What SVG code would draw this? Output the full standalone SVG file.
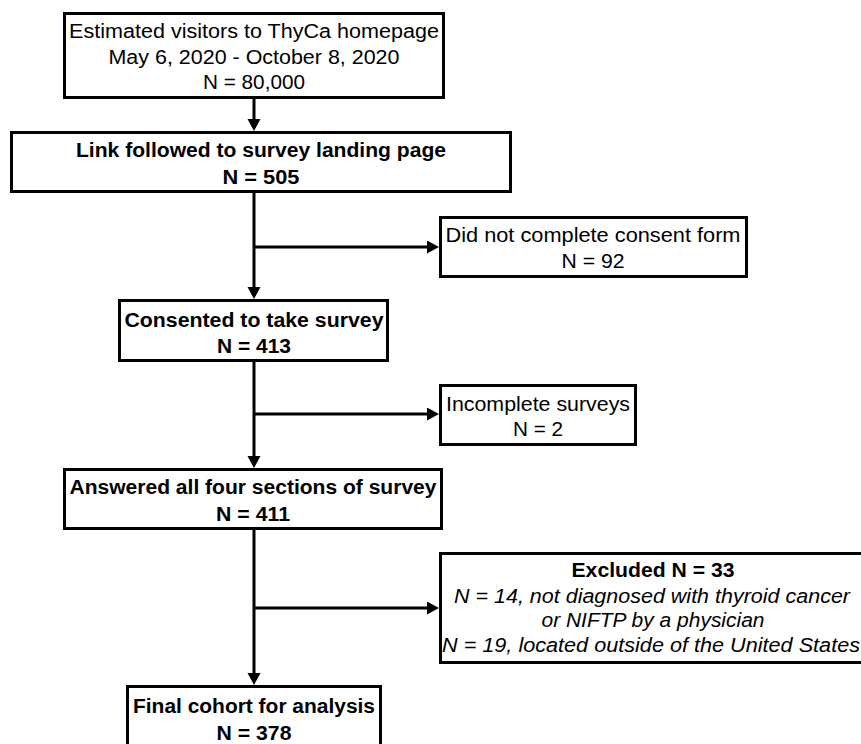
<svg xmlns="http://www.w3.org/2000/svg" width="861" height="744" viewBox="0 0 861 744">
<defs>
<style>
.box{fill:#fff;stroke:#000;stroke-width:3}
.t{font-family:"Liberation Sans",Arial,sans-serif;font-size:20px;fill:#000;text-anchor:middle}
.b{font-weight:bold}
.i{font-style:italic}
.c{fill:none;stroke:#000;stroke-width:3}
</style>
<marker id="ah" markerUnits="userSpaceOnUse" markerWidth="14" markerHeight="14" refX="2" refY="6.5" orient="auto">
<path d="M0,0 L12,6.5 L0,13 z" fill="#000"/>
</marker>
</defs>
<rect width="861" height="744" fill="#fff"/>
<g id="connectors">
<line class="c" x1="254" y1="99" x2="254" y2="121" marker-end="url(#ah)"/>
<line class="c" x1="254" y1="193" x2="254" y2="289" marker-end="url(#ah)"/>
<line class="c" x1="254" y1="247" x2="429" y2="247" marker-end="url(#ah)"/>
<line class="c" x1="254" y1="362" x2="254" y2="458" marker-end="url(#ah)"/>
<line class="c" x1="254" y1="414" x2="429" y2="414" marker-end="url(#ah)"/>
<line class="c" x1="254" y1="530" x2="254" y2="675" marker-end="url(#ah)"/>
<line class="c" x1="254" y1="608" x2="429" y2="608" marker-end="url(#ah)"/>
</g>
<g id="visitors">
<rect class="box" x="64.5" y="13.5" width="379" height="84"/>
<text class="t" x="254" y="38" textLength="370" lengthAdjust="spacingAndGlyphs">Estimated visitors to ThyCa homepage</text>
<text class="t" x="254" y="64" textLength="291" lengthAdjust="spacingAndGlyphs">May 6, 2020 - October 8, 2020</text>
<text class="t" x="254" y="89" textLength="102" lengthAdjust="spacingAndGlyphs">N = 80,000</text>
</g>
<g id="landing">
<rect class="box" x="11.5" y="132.5" width="499" height="59"/>
<text class="t b" x="261" y="157" textLength="370" lengthAdjust="spacingAndGlyphs">Link followed to survey landing page</text>
<text class="t b" x="261" y="184" textLength="77" lengthAdjust="spacingAndGlyphs">N = 505</text>
</g>
<g id="noconsent">
<rect class="box" x="440.5" y="217.5" width="306" height="59"/>
<text class="t" x="593" y="242" textLength="295" lengthAdjust="spacingAndGlyphs">Did not complete consent form</text>
<text class="t" x="593" y="268" textLength="63" lengthAdjust="spacingAndGlyphs">N = 92</text>
</g>
<g id="consented">
<rect class="box" x="119.5" y="300.5" width="268" height="60"/>
<text class="t b" x="254" y="327" textLength="259" lengthAdjust="spacingAndGlyphs">Consented to take survey</text>
<text class="t b" x="254" y="353" textLength="74" lengthAdjust="spacingAndGlyphs">N = 413</text>
</g>
<g id="incomplete">
<rect class="box" x="440.5" y="385.5" width="195" height="59"/>
<text class="t" x="538" y="411" textLength="184" lengthAdjust="spacingAndGlyphs">Incomplete surveys</text>
<text class="t" x="538" y="436" textLength="50" lengthAdjust="spacingAndGlyphs">N = 2</text>
</g>
<g id="answered">
<rect class="box" x="64.5" y="469.5" width="377" height="59"/>
<text class="t b" x="253" y="494" textLength="367" lengthAdjust="spacingAndGlyphs">Answered all four sections of survey</text>
<text class="t b" x="253" y="521" textLength="74" lengthAdjust="spacingAndGlyphs">N = 411</text>
</g>
<g id="excluded">
<rect class="box" x="440.5" y="553.5" width="430" height="109"/>
<text class="t b" x="653" y="577" textLength="163" lengthAdjust="spacingAndGlyphs">Excluded N = 33</text>
<text class="t i" x="652" y="603" textLength="396" lengthAdjust="spacingAndGlyphs">N = 14, not diagnosed with thyroid cancer</text>
<text class="t i" x="653" y="627" textLength="223" lengthAdjust="spacingAndGlyphs">or NIFTP by a physician</text>
<text class="t i" x="651" y="652" textLength="418" lengthAdjust="spacingAndGlyphs">N = 19, located outside of the United States</text>
</g>
<g id="final">
<rect class="box" x="127.5" y="686.5" width="253" height="80"/>
<text class="t b" x="254" y="713" textLength="242" lengthAdjust="spacingAndGlyphs">Final cohort for analysis</text>
<text class="t b" x="254" y="740" textLength="75" lengthAdjust="spacingAndGlyphs">N = 378</text>
</g>
</svg>
